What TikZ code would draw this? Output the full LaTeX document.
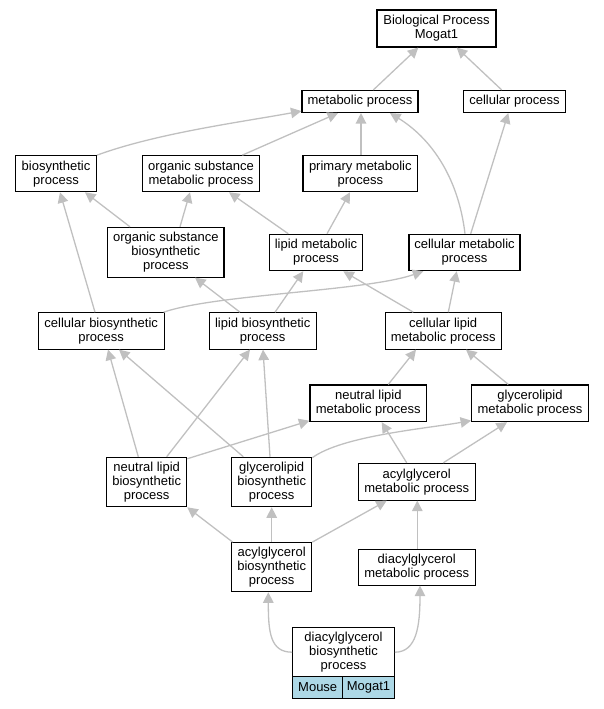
\documentclass[tikz,border=0pt]{standalone}
\usepackage{fontspec}
\setmainfont{Liberation Sans}
\usetikzlibrary{arrows.meta,calc}
\definecolor{edgegray}{HTML}{C0C0C0}
\definecolor{cellblue}{HTML}{ADD8E6}
\tikzset{
  box/.style={draw=black, line width=1.1pt, rectangle, inner sep=0pt, align=center,
    font=\fontsize{13}{14}\selectfont},
  cell/.style={box, fill=cellblue},
  edge/.style={draw=edgegray, line width=1.3pt, -{Triangle[length=10.5pt,width=10.5pt]}},
}
\begin{document}
\begin{tikzpicture}[x=1pt,y=-1pt]
\useasboundingbox (0,0) rectangle (603,709);
% nodes
\node[box, minimum width=119pt, minimum height=37pt] (bp) at (436.5,28.5) {Biological Process\\Mogat1};
\node[box, minimum width=116pt, minimum height=22pt] (mp) at (360,101.5) {metabolic process};
\node[box, minimum width=101.5pt, minimum height=22pt] (cp) at (514.5,101.5) {cellular process};
\node[box, minimum width=81pt, minimum height=36pt] (bs) at (56,173.7) {biosynthetic\\process};
\node[box, minimum width=116.5pt, minimum height=36pt] (osm) at (201,173.7) {organic substance\\metabolic process};
\node[box, minimum width=114.7pt, minimum height=36pt] (pm) at (360.3,173.7) {primary metabolic\\process};
\node[box, minimum width=116.3pt, minimum height=49.7pt] (osb) at (165.8,252.2) {organic substance\\biosynthetic\\process};
\node[box, minimum width=93.7pt, minimum height=36.4pt] (lm) at (316,252.5) {lipid metabolic\\process};
\node[box, minimum width=111pt, minimum height=36.4pt] (cm) at (464.5,252.5) {cellular metabolic\\process};
\node[box, minimum width=125.7pt, minimum height=36.3pt] (cb) at (101.2,330.9) {cellular biosynthetic\\process};
\node[box, minimum width=106.7pt, minimum height=36.3pt] (lb) at (262.7,330.9) {lipid biosynthetic\\process};
\node[box, minimum width=116.3pt, minimum height=36.3pt] (clm) at (443.2,330.9) {cellular lipid\\metabolic process};
\node[box, minimum width=116.7pt, minimum height=36.7pt] (nlm) at (368.3,403.3) {neutral lipid\\metabolic process};
\node[box, minimum width=116.7pt, minimum height=36.7pt] (glm) at (530,403.3) {glycerolipid\\metabolic process};
\node[box, minimum width=80pt, minimum height=49.4pt] (nlb) at (146.7,482) {neutral lipid\\biosynthetic\\process};
\node[box, minimum width=80pt, minimum height=49.4pt] (glb) at (271.7,482) {glycerolipid\\biosynthetic\\process};
\node[box, minimum width=116.7pt, minimum height=36.7pt] (agm) at (416.7,481.7) {acylglycerol\\metabolic process};
\node[box, minimum width=80pt, minimum height=49pt] (agb) at (271.7,567.2) {acylglycerol\\biosynthetic\\process};
\node[box, minimum width=116.7pt, minimum height=35.7pt] (dgm) at (416.7,567.2) {diacylglycerol\\metabolic process};
\node[box, minimum width=101.6pt, minimum height=49pt] (dgb) at (343.5,652.2) {diacylglycerol\\biosynthetic\\process};
\node[cell, minimum width=50pt, minimum height=21.6pt] (mouse) at (317.7,687.5) {Mouse};
\node[cell, minimum width=51.6pt, minimum height=21.6pt] (mogat) at (368.5,687.5) {Mogat1};
% edges
\draw[edge] ([xshift=13.3pt]mp.north) -- ([xshift=-18.2pt]bp.south);
\draw[edge] ([xshift=-12.8pt]cp.north) -- ([xshift=20.2pt]bp.south);
\draw[edge] (bs.north east) .. controls +(60,-22) and +(-60,11) .. ([yshift=2pt]mp.south west);
\draw[edge] ([xshift=41.3pt]osm.north) -- ([xshift=-22pt]mp.south);
\draw[edge] ([xshift=0.7pt]pm.north) -- ([xshift=0.7pt]pm.north |- mp.south);
\draw[edge] ([xshift=0.5pt]cm.north) .. controls +(-7,-59) and +(39,24) .. ([xshift=30pt]mp.south);
\draw[edge] ([xshift=6.2pt]cm.north) -- ([xshift=-6.2pt]cp.south);
\draw[edge] ([xshift=-35.8pt]osb.north) -- ([xshift=29pt]bs.south);
\draw[edge] ([xshift=14.2pt]osb.north) -- ([xshift=-11pt]osm.south);
\draw[edge] ([xshift=-27.7pt]lm.north) -- ([xshift=28pt]osm.south);
\draw[edge] ([xshift=11pt]lm.north) -- ([xshift=-10.3pt]pm.south);
\draw[edge] ([xshift=-6.2pt]cb.north) -- ([xshift=4pt]bs.south);
\draw[edge] ([xshift=-1pt]cb.north east) .. controls +(52,-18) and +(-58,20) .. ([xshift=-41.2pt]cm.south);
\draw[edge] ([xshift=-22.7pt]lb.north) -- ([xshift=29.2pt]osb.south);
\draw[edge] ([xshift=12.3pt]lb.north) -- ([xshift=-12.7pt]lm.south);
\draw[edge] ([xshift=-29.9pt]clm.north) -- ([xshift=27.3pt]lm.south);
\draw[edge] ([xshift=5.1pt]clm.north) -- ([xshift=-7.8pt]cm.south);
\draw[edge] ([xshift=20pt]nlm.north) -- ([xshift=-27.2pt]clm.south);
\draw[edge] ([xshift=-21.7pt]glm.north) -- ([xshift=22.8pt]clm.south);
\draw[edge] ([xshift=-8.4pt]nlb.north) -- ([xshift=6.8pt]cb.south);
\draw[edge] ([xshift=-28.4pt]glb.north) -- ([xshift=17.8pt]cb.south);
\draw[edge] ([xshift=20pt]nlb.north) -- ([xshift=-12.7pt]lb.south);
\draw[edge] ([xshift=-1.7pt]glb.north) -- ([xshift=0.3pt]lb.south);
\draw[edge] ([yshift=-2pt]nlb.north east) -- ([yshift=1.5pt]nlm.south west);
\draw[edge] ([yshift=-1pt]glb.north east) .. controls +(30,-22) and +(-45,8) .. ([yshift=1.6pt]glm.south west);
\draw[edge] ([xshift=-10pt]agm.north) -- ([xshift=13.4pt]nlm.south);
\draw[edge] ([xshift=26.6pt]agm.north) -- ([xshift=-23pt]glm.south);
\draw[edge] ([xshift=1.6pt]agb.north west) -- (nlb.south east);
\draw[edge] (agb.north) -- (glb.south);
\draw[edge] (agb.north east) -- ([xshift=-30pt]agm.south);
\draw[edge] ([xshift=0.6pt]dgm.north) -- ([xshift=0.6pt]dgm.north |- agm.south);
\draw[edge] (dgb.west) .. controls +(-22,0) and +(0,40) .. ([xshift=-3.4pt]agb.south);
\draw[edge] (dgb.east) .. controls +(22,0) and +(0,40) .. ([xshift=3.3pt]dgm.south);
\end{tikzpicture}
\end{document}
